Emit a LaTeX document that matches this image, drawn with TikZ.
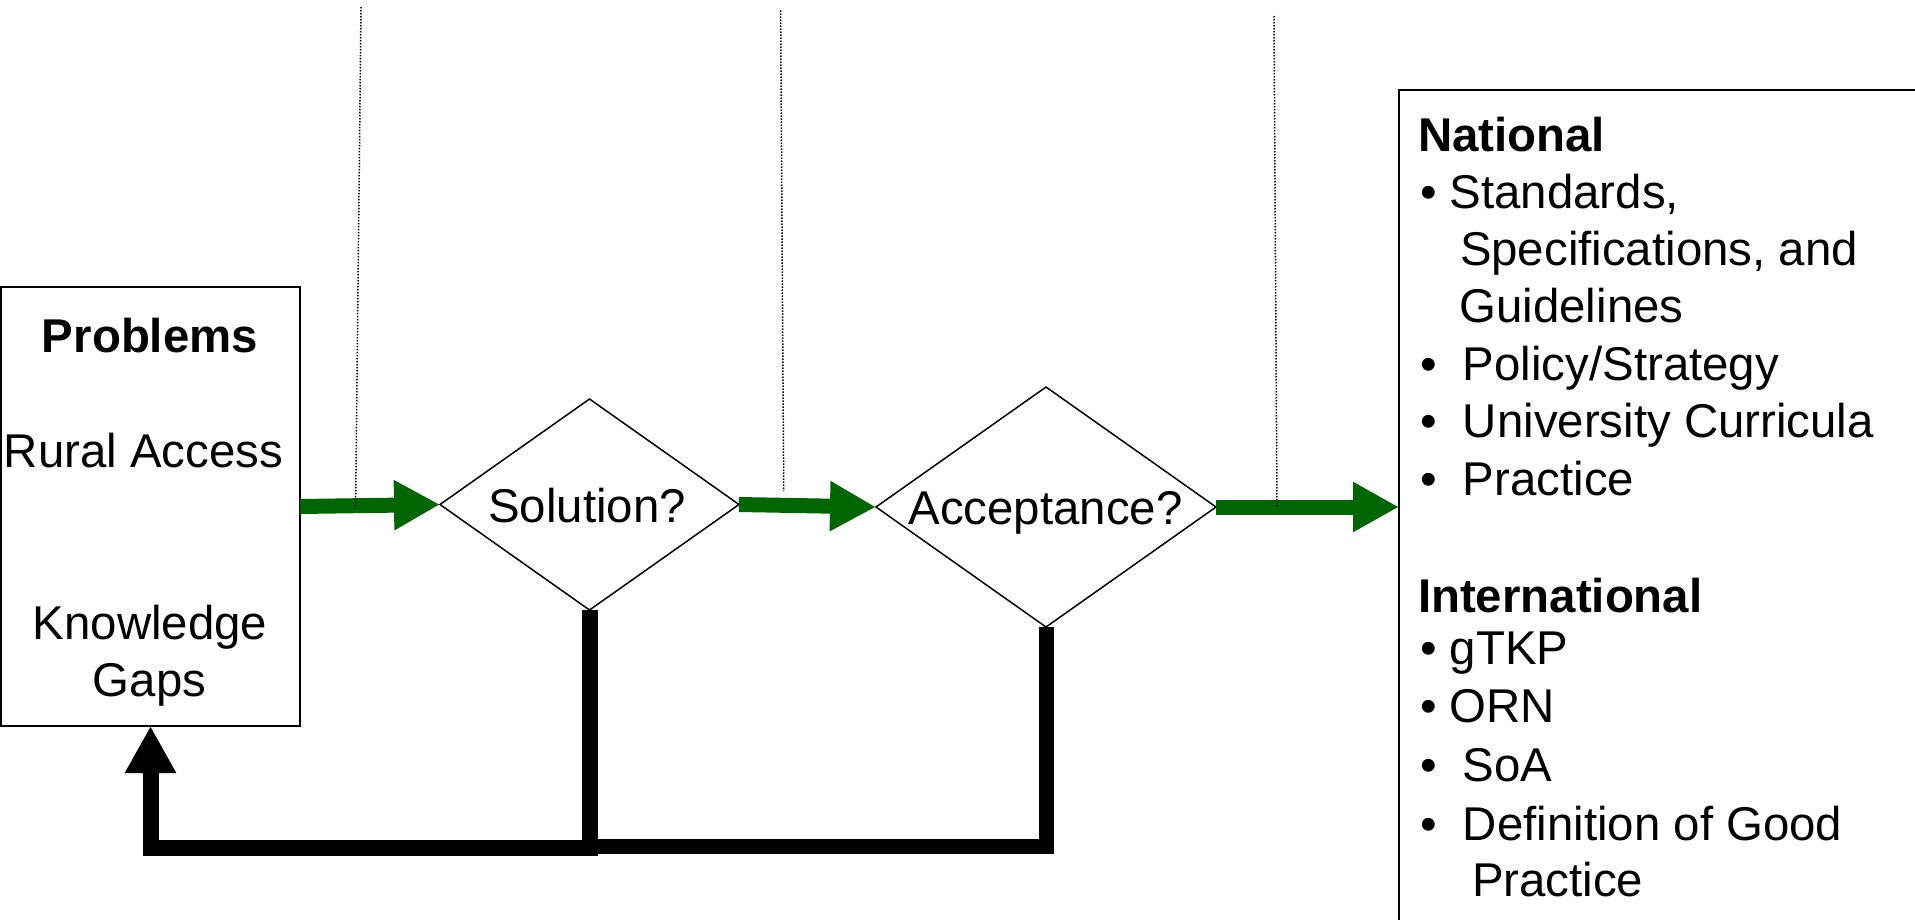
\documentclass[tikz,border=0pt]{standalone}
\usepackage{fontspec}
\setmainfont{Liberation Sans}
\usetikzlibrary{shapes.geometric,arrows.meta}
\definecolor{arrowgreen}{RGB}{0,102,0}
\begin{document}
\begin{tikzpicture}[x=0.5pt,y=-0.5pt,
  txt/.style={font=\fontsize{23.7}{28.75}\selectfont, inner sep=0pt, outer sep=0pt},
  boxnode/.style={draw=black, line width=1pt, rectangle, inner sep=0pt, outer sep=0pt},
  decision/.style={draw=black, line width=0.75pt, diamond, inner sep=0pt, outer sep=0pt},
  flow/.style={draw=arrowgreen, line width=7.5pt, -{Triangle[length=23pt,width=23.5pt]}},
  feedback/.style={draw=black, line width=8pt},
  guide/.style={draw=black, line width=0.75pt, dash pattern=on 0.75pt off 0.75pt},
]
\clip (0,0) rectangle (1915,920);
\fill[white] (0,0) rectangle (1915,920);

% shapes
\node[boxnode, minimum width=149.5pt, minimum height=219.5pt] (prob) at (150.5,506.5) {};
\node[decision, minimum width=149.5pt, minimum height=105.5pt] (sol) at (589.5,504.5) {};
\node[decision, minimum width=170pt, minimum height=120pt] (acc) at (1046,507) {};
\node[boxnode, line width=0.9pt, minimum width=268pt, minimum height=425pt] (natbox) at (1667,515) {};

% left box texts
\node[txt, anchor=base] (tprob) at (150,352) {\bfseries Problems};
\node[txt, anchor=base] (trural) at (143.5,467.5) {Rural Access};
\node[txt, anchor=base] (tknow) at (150,639) {Knowledge};
\node[txt, anchor=base] (tgaps) at (149.5,696) {Gaps};

% diamond texts
\node[txt, anchor=base] (tsol) at (587,522) {Solution?};
\node[txt, anchor=base] (tacc) at (1045.6,524) {Acceptance?};

% right box texts
\node[txt, anchor=base west] (r1) at (1418,151) {\bfseries National};
\node[txt, anchor=base west] (r2) at (1420,208.5) {• Standards,};
\node[txt, anchor=base west] (r3) at (1460,265) {Specifications, and};
\node[txt, anchor=base west] (r4) at (1459.5,322.6) {Guidelines};
\node[txt, anchor=base west] (r5) at (1420,380) {•\ \ Policy/Strategy};
\node[txt, anchor=base west] (r6) at (1420,437) {•\ \ University Curricula};
\node[txt, anchor=base west] (r7) at (1420,495) {•\ \ Practice};
\node[txt, anchor=base west] (r8) at (1418,612) {\bfseries International};
\node[txt, anchor=base west] (r9) at (1420,664) {• gTKP};
\node[txt, anchor=base west] (r10) at (1420,722.7) {• ORN};
\node[txt, anchor=base west] (r11) at (1420,781.7) {•\ \ SoA};
\node[txt, anchor=base west] (r12) at (1420,840.6) {•\ \ Definition of Good};
\node[txt, anchor=base west] (r13) at (1472,896.8) {Practice};

% green flow arrows
\draw[flow] (prob.east) -- (sol.west);
\draw[flow] (sol.east) -- (acc.west);
\draw[flow] (acc.east) -- (acc.east -| natbox.west);

% black feedback
\coordinate (fbA) at (0,848);
\coordinate (fbB) at (0,846.5);
\draw[feedback, line width=7.5pt] (acc.south) -- (acc.south |- fbB) -- (sol.south |- fbB);
\draw[feedback, -{Triangle[length=23.5pt,width=24pt]}] (sol.south) -- (sol.south |- fbA) -| (prob.south);

% guide lines (dotted), drawn on top
\coordinate (d1t) at (361,7);    \coordinate (d1b) at (355.6,509);
\coordinate (d2t) at (780.6,10.5); \coordinate (d2b) at (783.7,491);
\coordinate (d3t) at (1274,16);  \coordinate (d3b) at (1277,508);
\draw[guide] (d1t) -- (d1b);
\draw[guide] (d2t) -- (d2b);
\draw[guide] (d3t) -- (d3b);
\end{tikzpicture}
\end{document}
